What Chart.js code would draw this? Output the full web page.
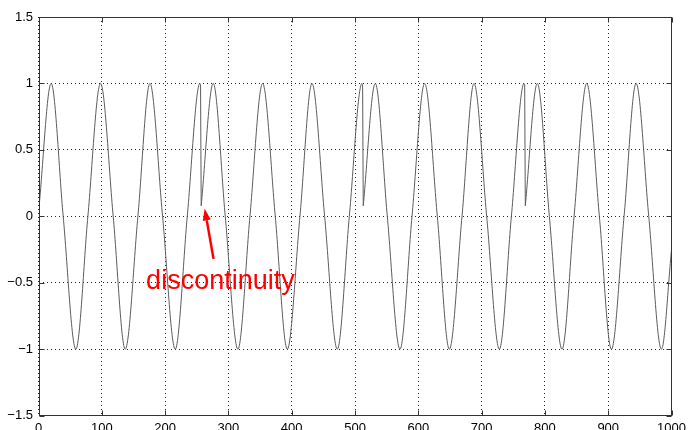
<!DOCTYPE html>
<html>
<head>
<meta charset="UTF-8">
<title>discontinuity</title>
<script src="https://cdn.jsdelivr.net/npm/chart.js"></script>
<style>
    html, body { margin: 0; padding: 0; background: #fff; }
    #wrap { width: 691px; height: 430px; overflow: hidden; }
</style>
</head>
<body>
<div id="wrap"><canvas id="sig" width="691" height="430"></canvas></div>
<script>
    // samples: block edges, peaks, troughs and zero crossings
    const sampleX = [
        1, 20, 39, 59, 78, 98, 118, 137, 157, 176, 196, 216, 235, 255, 256,
        257, 276, 295, 315, 334, 354, 374, 393, 413, 432, 452, 472, 491, 511, 512,
        513, 532, 551, 571, 590, 610, 630, 649, 669, 688, 708, 728, 747, 767, 768,
        769, 788, 807, 827, 846, 866, 886, 905, 925, 944, 964, 984, 1000
    ];
    const sampleY = [
        0.08, 1, 0, -1, 0, 1, 0, -1, 0, 1, 0, -1, 0, 1, 0.99,
        0.08, 1, 0, -1, 0, 1, 0, -1, 0, 1, 0, -1, 0, 1, 0.99,
        0.08, 1, 0, -1, 0, 1, 0, -1, 0, 1, 0, -1, 0, 1, 0.99,
        0.08, 1, 0, -1, 0, 1, 0, -1, 0, 1, 0, -1, -0.25
    ];
    // the phase restarts at these samples
    const resetAt = [257, 513, 769];

    const xTickVals = [0, 100, 200, 300, 400, 500, 600, 700, 800, 900, 1000];
    const yTickVals = [-1.5, -1, -0.5, 0, 0.5, 1, 1.5];
    const yTickLabels = ['\u22121.5', '\u22121', '\u22120.5', '0', '0.5', '1', '1.5'];

    // split into smooth blocks, plus straight drops between them
    const blocks = [];
    let cur = [];
    sampleX.forEach((x, i) => {
        if (resetAt.includes(x) && cur.length) { blocks.push(cur); cur = []; }
        cur.push({ x: x, y: sampleY[i] });
    });
    blocks.push(cur);

    const drops = [];
    for (let i = 1; i < blocks.length; i++) {
        const a = blocks[i - 1][blocks[i - 1].length - 1];
        const b = blocks[i][0];
        drops.push(a, b, { x: (a.x + b.x) / 2, y: null });
    }

    const lineColor = '#5c5c5c';
    const datasets = blocks.map(b => ({
        data: b,
        borderColor: lineColor,
        borderWidth: 1,
        pointRadius: 0,
        cubicInterpolationMode: 'monotone',
        fill: false
    }));
    datasets.push({
        data: drops,
        borderColor: lineColor,
        borderWidth: 1,
        pointRadius: 0,
        tension: 0,
        spanGaps: false,
        fill: false
    });

    // solid box with inward tick marks, like the matlab axes
    const frame = {
        id: 'frame',
        afterDatasetsDraw(chart) {
            const { ctx, chartArea: a, scales: { x, y } } = chart;
            const L = Math.round(a.left) + 0.5, R = Math.round(a.right) - 0.5;
            const T = Math.round(a.top) + 0.5, B = Math.round(a.bottom) - 0.5;
            ctx.save();
            ctx.strokeStyle = '#333';
            ctx.lineWidth = 1;
            ctx.strokeRect(L, T, R - L, B - T);
            ctx.beginPath();
            xTickVals.forEach(v => {
                const px = Math.round(x.getPixelForValue(v)) + 0.5;
                ctx.moveTo(px, B); ctx.lineTo(px, B - 5);
                ctx.moveTo(px, T); ctx.lineTo(px, T + 5);
            });
            yTickVals.forEach(v => {
                const py = Math.round(y.getPixelForValue(v)) + 0.5;
                ctx.moveTo(L, py); ctx.lineTo(L + 5, py);
                ctx.moveTo(R, py); ctx.lineTo(R - 5, py);
            });
            ctx.stroke();
            ctx.restore();
        }
    };

    // red label and arrow pointing at the first jump
    const note = {
        id: 'note',
        afterDraw(chart) {
            const { ctx, scales: { x, y } } = chart;
            const tx = x.getPixelForValue(276.5), ty = y.getPixelForValue(-0.32);
            const hx = x.getPixelForValue(262.5), hy = y.getPixelForValue(0.06);
            const ang = Math.atan2(hy - ty, hx - tx);
            const len = 12, half = 4;
            const bx = hx - len * Math.cos(ang), by = hy - len * Math.sin(ang);
            ctx.save();
            ctx.strokeStyle = '#ff0000';
            ctx.fillStyle = '#ff0000';
            ctx.lineWidth = 2.5;
            ctx.beginPath();
            ctx.moveTo(tx, ty);
            ctx.lineTo(bx, by);
            ctx.stroke();
            ctx.beginPath();
            ctx.moveTo(hx, hy);
            ctx.lineTo(bx + half * Math.sin(ang), by - half * Math.cos(ang));
            ctx.lineTo(bx - half * Math.sin(ang), by + half * Math.cos(ang));
            ctx.closePath();
            ctx.fill();
            ctx.font = '27px "Liberation Sans", Arial, sans-serif';
            ctx.textBaseline = 'alphabetic';
            ctx.textAlign = 'left';
            ctx.fillText('discontinuity', x.getPixelForValue(170), y.getPixelForValue(-0.55));
            ctx.restore();
        }
    };

    const tickFont = { family: '"Liberation Sans", Arial, sans-serif', size: 13 };

    new Chart(document.getElementById('sig'), {
        type: 'line',
        data: { datasets: datasets },
        options: {
            responsive: false,
            animation: false,
            layout: { padding: { top: 17, right: 15, left: 0, bottom: 0 } },
            plugins: { legend: { display: false }, tooltip: { enabled: false } },
            scales: {
                x: {
                    type: 'linear',
                    min: 0,
                    max: 1000,
                    afterBuildTicks: s => { s.ticks = xTickVals.map(v => ({ value: v })); },
                    afterFit: s => { s.height = 14.3; },
                    grid: { color: 'rgba(0,0,0,0.85)', lineWidth: 1, drawTicks: false },
                    border: { display: false, dash: [1, 3] },
                    ticks: {
                        color: '#000',
                        font: tickFont,
                        padding: 5,
                        maxRotation: 0,
                        callback: v => String(v)
                    }
                },
                y: {
                    type: 'linear',
                    min: -1.5,
                    max: 1.5,
                    afterBuildTicks: s => { s.ticks = yTickVals.map(v => ({ value: v })); },
                    afterFit: s => { s.width = 38.5; },
                    grid: { color: 'rgba(0,0,0,0.85)', lineWidth: 1, drawTicks: false },
                    border: { display: false, dash: [1, 3] },
                    ticks: {
                        color: '#000',
                        font: tickFont,
                        padding: 5.5,
                        callback: v => yTickLabels[yTickVals.indexOf(v)]
                    }
                }
            }
        },
        plugins: [frame, note]
    });
</script>
</body>
</html>
